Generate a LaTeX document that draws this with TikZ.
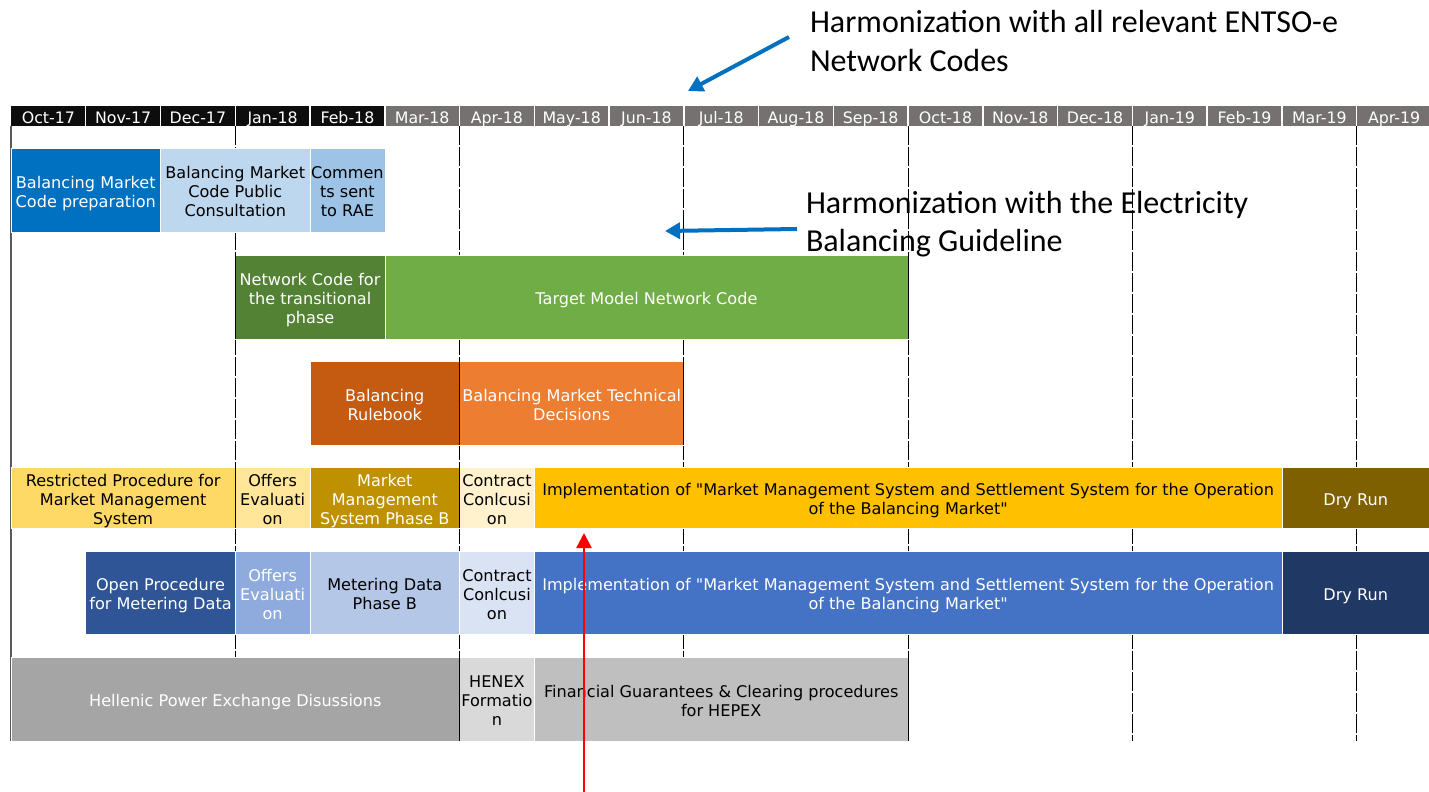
\documentclass[tikz,border=0pt]{standalone}
\usepackage{fontspec}
\setmainfont{DejaVu Sans}[Ligatures=TeXOff]
\newfontfamily\calib{Carlito}
\usetikzlibrary{arrows.meta}
\definecolor{hblack}{HTML}{0D0D0D}
\definecolor{hgray}{HTML}{767171}
\definecolor{cBlue}{HTML}{0070C0}
\definecolor{cLBlue}{HTML}{BDD7EE}
\definecolor{cMBlue}{HTML}{9DC3E6}
\definecolor{cDGreen}{HTML}{548235}
\definecolor{cGreen}{HTML}{70AD47}
\definecolor{cDOrange}{HTML}{C55A11}
\definecolor{cOrange}{HTML}{ED7D31}
\definecolor{cGold1}{HTML}{FFD966}
\definecolor{cGold2}{HTML}{FFE699}
\definecolor{cGold3}{HTML}{BF9000}
\definecolor{cGold4}{HTML}{FFF2CC}
\definecolor{cGold5}{HTML}{FFC000}
\definecolor{cGold6}{HTML}{7F6000}
\definecolor{cNavy1}{HTML}{2F5597}
\definecolor{cNavy2}{HTML}{8FAADC}
\definecolor{cNavy3}{HTML}{B4C7E7}
\definecolor{cNavy4}{HTML}{DAE3F3}
\definecolor{cNavy5}{HTML}{4472C4}
\definecolor{cNavy6}{HTML}{203864}
\definecolor{cGray1}{HTML}{A5A5A5}
\definecolor{cGray2}{HTML}{D9D9D9}
\definecolor{cGray3}{HTML}{BFBFBF}
\definecolor{leftline}{HTML}{595959}
\newcommand{\tabfont}{\fontsize{16.1}{19}\selectfont}
\newcommand{\hdrfont}{\fontsize{15.8}{19}\selectfont}
\newcommand{\annfont}{\calib\fontsize{32}{38.4}\selectfont}
\def\cw{74.76}
\def\xo{11}
\tikzset{
  hcell/.style={anchor=north west, minimum width=\cw pt, minimum height=20pt, inner sep=0pt, outer sep=0pt, text=white, font=\hdrfont, text height=15.5pt, text depth=0pt},
  box/.style={anchor=north west, draw=white, line width=0.6pt, inner sep=0pt, outer sep=0pt, align=center, font=\tabfont},
  oneline/.style={text height=15.8pt, text depth=0pt},
  twolines/.style={text height=34.8pt, text depth=0pt},
  threelines/.style={text height=53.8pt, text depth=0pt},
  qline/.style={draw=black, line width=1pt, dash pattern=on 19pt off 2pt},
  lline/.style={draw=leftline, line width=1.2pt},
  edgeline/.style={draw=black, line width=0.9pt},
  hsep/.style={draw=white, line width=1.4pt},
  annot/.style={anchor=north west, inner sep=0pt, outer sep=0pt, align=left, font=\annfont},
  bluearrow/.style={draw=cBlue, line width=4pt, -{Triangle[length=15pt,width=16pt]}},
  redarrow/.style={draw=red, line width=2.5pt, -{Triangle[length=15pt,width=15pt]}}
}
\begin{document}
\begin{tikzpicture}[x=1pt,y=-1pt]
\useasboundingbox (0,0) rectangle (1429,792);
\fill[white] (0,0) rectangle (1429,792);

% header
\foreach \m [count=\i from 0] in {Oct-17,Nov-17,Dec-17,Jan-18,Feb-18}
  \node[hcell, fill=hblack] (h\i) at ({\xo+\i*\cw},106) {\m};
\foreach \m [count=\i from 5] in {Mar-18,Apr-18,May-18,Jun-18,Jul-18,Aug-18,Sep-18,Oct-18,Nov-18,Dec-18,Jan-19,Feb-19,Mar-19,Apr-19}
  \node[hcell, fill=hgray] (h\i) at ({\xo+\i*\cw},106) {\m};
\foreach \i in {1,...,18}
  \draw[hsep] (h\i.north west) -- (h\i.south west);

% grid lines
\coordinate (lb) at (\xo,741);
\draw[lline] (h0.south west) -- (lb);
\foreach \i in {3,6,9,12,15,18} {
  \coordinate (q\i) at ({\xo+\i*\cw},741);
  \draw[qline] (h\i.south west) -- (q\i);
}

% row 1
\node[box, twolines, fill=cBlue, text=white, minimum width={2*\cw pt}, minimum height=84pt] (bmcp) at (\xo,148) {Balancing Market\\Code preparation};
\node[box, threelines, fill=cLBlue, text=black, minimum width={2*\cw pt}, minimum height=84pt] (bmpc) at ({\xo+2*\cw},148) {Balancing Market\\Code Public\\Consultation};
\node[box, threelines, fill=cMBlue, text=black, minimum width={\cw pt}, minimum height=84pt] (csr) at ({\xo+4*\cw},148) {Commen\\ts sent\\to RAE};

% row 2
\node[box, threelines, fill=cDGreen, text=white, minimum width={2*\cw pt}, minimum height=84pt] (nct) at ({\xo+3*\cw},255) {Network Code for\\the transitional\\phase};
\node[box, oneline, fill=cGreen, text=white, minimum width={7*\cw pt}, minimum height=84pt] (tm) at ({\xo+5*\cw},255) {Target Model Network Code};

% row 3
\node[box, twolines, fill=cDOrange, text=white, minimum width={2*\cw pt}, minimum height=84pt] (rb) at ({\xo+4*\cw},361) {Balancing\\Rulebook};
\node[box, twolines, fill=cOrange, text=white, minimum width={3*\cw pt}, minimum height=84pt] (td) at ({\xo+6*\cw},361) {Balancing Market Technical\\Decisions};

% row 4
\node[box, threelines, fill=cGold1, text=black, minimum width={3*\cw pt}, minimum height=61pt] (rp) at (\xo,467) {Restricted Procedure for\\Market Management\\System};
\node[box, threelines, fill=cGold2, text=black, minimum width={\cw pt}, minimum height=61pt] (oe1) at ({\xo+3*\cw},467) {Offers\\Evaluati\\on};
\node[box, threelines, fill=cGold3, text=white, minimum width={2*\cw pt}, minimum height=61pt] (mms) at ({\xo+4*\cw},467) {Market\\Management\\System Phase B};
\node[box, threelines, fill=cGold4, text=black, minimum width={\cw pt}, minimum height=61pt] (cc1) at ({\xo+6*\cw},467) {Contract\\Conlcusi\\on};
\node[box, twolines, fill=cGold5, text=black, minimum width={10*\cw pt}, minimum height=61pt] (imp1) at ({\xo+7*\cw},467) {Implementation of "Market Management System and Settlement System for the Operation\\of the Balancing Market"};
\node[box, oneline, fill=cGold6, text=white, minimum width=147.5pt, minimum height=61pt] (dr1) at ({\xo+17*\cw},467) {Dry Run};

% row 5
\node[box, twolines, fill=cNavy1, text=white, minimum width={2*\cw pt}, minimum height=83pt] (op) at ({\xo+\cw},551) {Open Procedure\\for Metering Data};
\node[box, threelines, fill=cNavy2, text=white, minimum width={\cw pt}, minimum height=83pt] (oe2) at ({\xo+3*\cw},551) {Offers\\Evaluati\\on};
\node[box, twolines, fill=cNavy3, text=black, minimum width={2*\cw pt}, minimum height=83pt] (md) at ({\xo+4*\cw},551) {Metering Data\\Phase B};
\node[box, threelines, fill=cNavy4, text=black, minimum width={\cw pt}, minimum height=83pt] (cc2) at ({\xo+6*\cw},551) {Contract\\Conlcusi\\on};
\node[box, twolines, fill=cNavy5, text=white, minimum width={10*\cw pt}, minimum height=83pt] (imp2) at ({\xo+7*\cw},551) {Implementation of "Market Management System and Settlement System for the Operation\\of the Balancing Market"};
\node[box, oneline, fill=cNavy6, text=white, minimum width=147.5pt, minimum height=83pt] (dr2) at ({\xo+17*\cw},551) {Dry Run};

% row 6
\node[box, oneline, fill=cGray1, text=white, minimum width={6*\cw pt}, minimum height=84pt] (hel) at (\xo,657) {Hellenic Power Exchange Disussions};
\node[box, threelines, fill=cGray2, text=black, minimum width={\cw pt}, minimum height=84pt] (henex) at ({\xo+6*\cw},657) {HENEX\\Formatio\\n};
\node[box, twolines, fill=cGray3, text=black, minimum width={5*\cw pt}, minimum height=84pt] (fg) at ({\xo+7*\cw},657) {Financial Guarantees \& Clearing procedures\\for HEPEX};

% dark edges where grid lines meet box borders
\draw[edgeline] (nct.north west) -- (nct.south west);
\draw[edgeline] (tm.north east) -- (tm.south east);
\draw[edgeline] (rb.north east) -- (rb.south east);
\draw[edgeline] (td.north east) -- (td.south east);
\draw[edgeline] (rp.north east) -- (rp.south east);
\draw[edgeline] (mms.north east) -- (mms.south east);
\draw[edgeline] (hel.north east) -- (hel.south east);
\draw[edgeline] (fg.north east) -- (fg.south east);

% annotations
\node[annot] (a1) at (810,10.5) {Harmonization with all relevant ENTSO-e\\Network Codes};
\node[annot] (a2) at (806,191) {Harmonization with the Electricity\\Balancing Guideline};

\coordinate (b1s) at (789,37);
\coordinate (b1e) at (688,91);
\draw[bluearrow] (b1s) -- (b1e);
\coordinate (b2s) at (797,229);
\coordinate (b2e) at (665,231);
\draw[bluearrow] (b2s) -- (b2e);
\coordinate (r0) at (584,792);
\coordinate (r1) at (584,533);
\draw[redarrow] (r0) -- (r1);
\end{tikzpicture}
\end{document}
